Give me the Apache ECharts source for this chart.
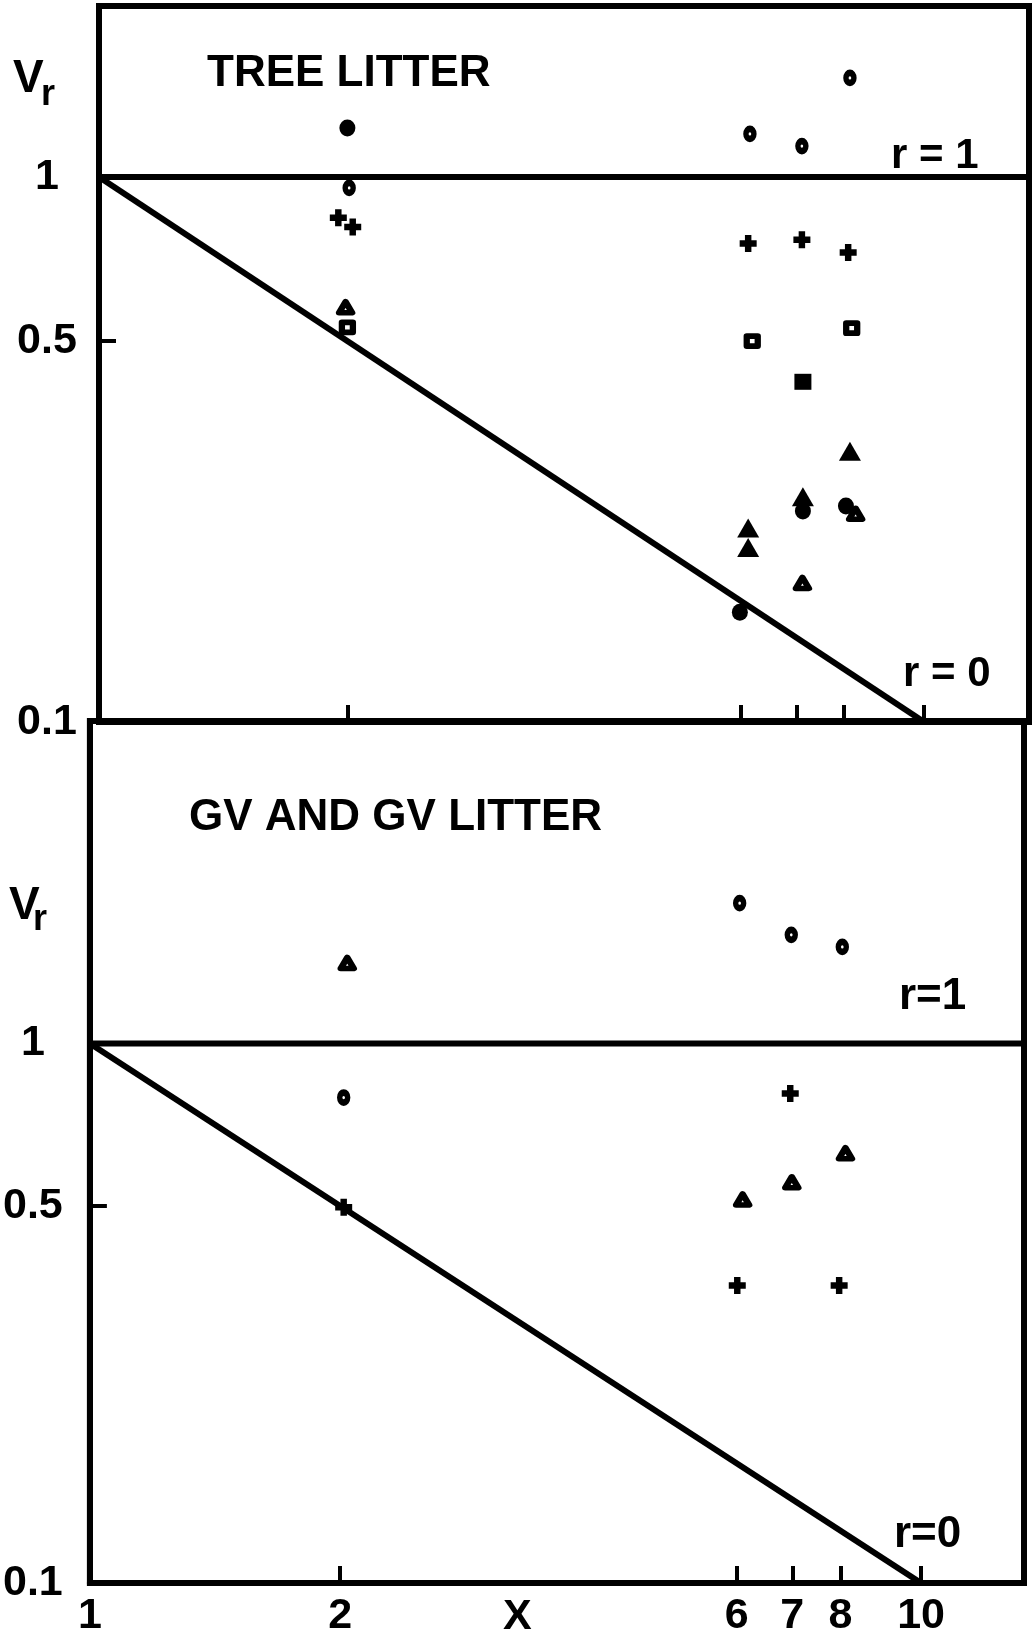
<!DOCTYPE html>
<html>
<head>
<meta charset="utf-8">
<script src="https://cdn.jsdelivr.net/npm/echarts@6/dist/echarts.min.js"></script>
<style>
  html, body { margin: 0; padding: 0; background: #fff; }
  #chart { width: 1032px; height: 1647px; }
</style>
</head>
<body>
<div id="chart"></div>
<script>
// ---- Tree litter panel: [X, Vr] ----
const treeOpenCircle     = [[2.01, 0.955], [6.15, 1.20], [7.11, 1.14], [8.13, 1.52]];
const treeFilledCircle   = [[2.00, 1.23], [5.98, 0.159], [7.13, 0.244], [8.04, 0.249]];
const treePlus           = [[1.95, 0.842], [2.03, 0.81], [6.12, 0.755], [7.11, 0.767], [8.09, 0.727]];
const treeOpenSquare     = [[2.00, 0.53], [6.19, 0.50], [8.17, 0.528]];
const treeFilledSquare   = [[7.13, 0.421]];
const treeOpenTriangle   = [[1.99, 0.577], [7.12, 0.180], [8.26, 0.241]];
const treeFilledTriangle = [[6.12, 0.227], [6.12, 0.209], [7.13, 0.259], [8.13, 0.314]];

// ---- GV and GV litter panel: [X, Vr] ----
const gvOpenCircle   = [[2.02, 0.794], [6.05, 1.82], [6.98, 1.59], [8.04, 1.51]];
const gvOpenTriangle = [[2.04, 1.41], [6.10, 0.514], [6.99, 0.553], [8.11, 0.626]];
const gvPlus         = [[2.02, 0.497], [6.01, 0.356], [6.96, 0.808], [7.97, 0.356]];

// ---- Reference lines: r = 1 (Vr = 1) and r = 0 (Vr = 1/X) ----
const lineR1 = [[1, 1], [13.4, 1]];
const lineR0 = [[1, 1], [10, 0.1]];

// ---- Axis ticks and labels ----
const xTicks  = [2, 6, 7, 8, 10];
const xLabels = [1, 2, 6, 7, 8, 10];
const yTicks  = [0.5];
const yLabels = [0.1, 0.5, 1];

const FONT = "'Liberation Sans', Arial, sans-serif";
const INK = '#000';
const PLUS = 'path://M3.1,0H6.9V3.1H10V6.9H6.9V10H3.1V6.9H0V3.1H3.1Z';

const chart = echarts.init(document.getElementById('chart'), null, { renderer: 'canvas' });

function xAxisDef(gridIndex, max, showLabels) {
  return {
    type: 'log', logBase: 10, gridIndex, min: 1, max,
    axisLine: { show: true, lineStyle: { color: INK, width: 6 } },
    axisTick: { show: true, inside: true, length: 17, customValues: xTicks,
                lineStyle: { color: INK, width: 4 } },
    minorTick: { show: false },
    splitLine: { show: false },
    axisLabel: { show: showLabels, customValues: xLabels, margin: 12,
                 color: INK, fontFamily: FONT, fontWeight: 'bold', fontSize: 43 }
  };
}
function yAxisDef(gridIndex, max, margin) {
  return {
    type: 'log', logBase: 10, gridIndex, min: 0.1, max,
    axisLine: { show: true, lineStyle: { color: INK, width: 6 } },
    axisTick: { show: true, inside: true, length: 17, customValues: yTicks,
                lineStyle: { color: INK, width: 4 } },
    minorTick: { show: false },
    splitLine: { show: false },
    axisLabel: { show: true, customValues: yLabels, margin, align: 'center',
                 color: INK, fontFamily: FONT, fontWeight: 'bold', fontSize: 43,
                 formatter: v => String(+v.toPrecision(3)) }
  };
}

const openStyle = { color: '#fff', borderColor: INK, borderWidth: 6, borderJoin: 'round', opacity: 1 };
const fillStyle = { color: INK, opacity: 1 };

function scatter(name, data, gi, symbol, size, style) {
  return { name, type: 'scatter', xAxisIndex: gi, yAxisIndex: gi, data, symbol,
           symbolSize: size, itemStyle: style, z: 5, silent: true };
}
function refLine(name, data, gi) {
  return { name, type: 'line', xAxisIndex: gi, yAxisIndex: gi, data, showSymbol: false,
           symbol: 'none', clip: true, lineStyle: { color: INK, width: 6, opacity: 1 }, z: 3, silent: true };
}

function txt(text, x, y, size) {
  return {
    type: 'text', x, y, silent: true,
    style: { text, fill: INK, font: 'bold ' + size + 'px ' + FONT,
             align: 'left', verticalAlign: 'middle' }
  };
}

chart.setOption({
  animation: false,
  backgroundColor: '#fff',
  grid: [
    { left: 99, top: 6, width: 930, height: 716, show: true, borderColor: INK, borderWidth: 6, containLabel: false },
    { left: 88, top: 721, width: 936, height: 862, show: true, borderColor: INK, borderWidth: 6, containLabel: false }
  ],
  xAxis: [xAxisDef(0, 13.4, false), xAxisDef(1, 13.3, true)],
  yAxis: [yAxisDef(0, 2.06, 52), yAxisDef(1, 3.96, 57)],
  series: [
    refLine('r = 1', lineR1, 0),
    refLine('r = 0', lineR0, 0),
    scatter('tree open circle', treeOpenCircle, 0, 'circle', [8, 10], openStyle),
    scatter('tree filled circle', treeFilledCircle, 0, 'circle', [16, 17], fillStyle),
    scatter('tree plus', treePlus, 0, PLUS, 17, fillStyle),
    scatter('tree open square', treeOpenSquare, 0, 'rect', [11, 10], openStyle),
    scatter('tree filled square', treeFilledSquare, 0, 'rect', [17, 16], fillStyle),
    scatter('tree open triangle', treeOpenTriangle, 0, 'triangle', [13, 11], openStyle),
    scatter('tree filled triangle', treeFilledTriangle, 0, 'triangle', [22, 19], fillStyle),

    refLine('r = 1', lineR1, 1),
    refLine('r = 0', lineR0, 1),
    scatter('GV open circle', gvOpenCircle, 1, 'circle', [8, 10], openStyle),
    scatter('GV open triangle', gvOpenTriangle, 1, 'triangle', [13, 11], openStyle),
    scatter('GV plus', gvPlus, 1, PLUS, 17, fillStyle)
  ],
  graphic: [
    txt('TREE LITTER', 207, 74, 44),
    txt('GV AND GV LITTER', 189, 818, 44),
    txt('V', 13, 79, 46),
    txt('r', 41, 95, 36),
    txt('V', 9, 906, 46),
    txt('r', 33, 920, 36),
    txt('r = 1', 891, 156, 42),
    txt('r = 0', 903, 674, 42),
    txt('r=1', 899, 997, 44),
    txt('r=0', 894, 1535, 44),
    txt('X', 503, 1617, 43)
  ]
});
</script>
</body>
</html>
